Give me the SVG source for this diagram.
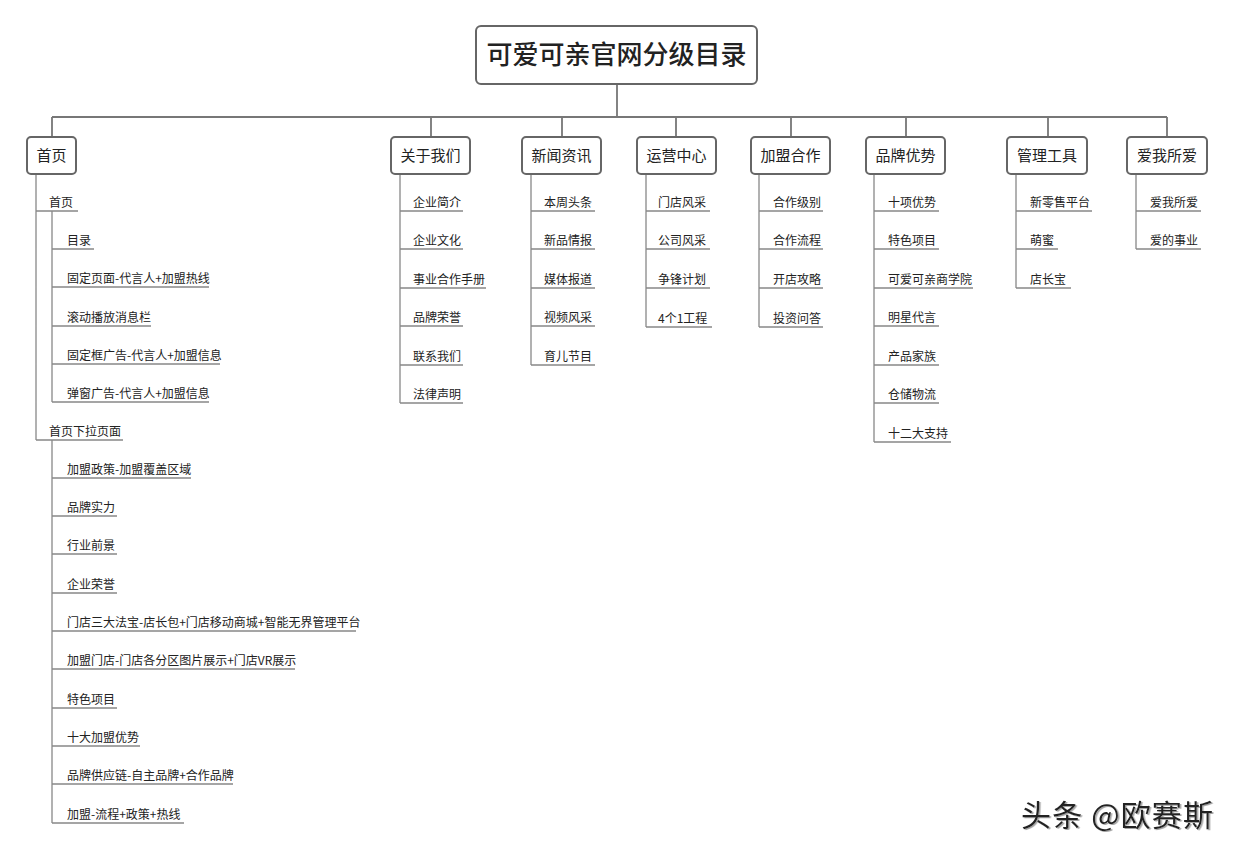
<svg xmlns="http://www.w3.org/2000/svg" width="1240" height="854" viewBox="0 0 1240 854">
<style>
text{font-family:"Noto Sans CJK SC","Noto Sans",sans-serif;fill:#222}
.box{fill:#fff;stroke:#666;stroke-width:2}
.t1{font-size:15px;text-anchor:middle}
.t2{font-size:12px}
.c{fill:none;stroke:#888;stroke-width:1.3}
.bus{fill:none;stroke:#777;stroke-width:1.8}
</style>
<defs>
<filter id="sh" x="-5%" y="-20%" width="110%" height="140%"><feDropShadow dx="1.5" dy="1" stdDeviation="0.6" flood-color="#999" flood-opacity="0.9"/></filter>
</defs>
<rect width="1240" height="854" fill="#fff"/>
<g id="connectors">
<path class="bus" d="M617 84V117M52 117H1167M52 117V137M431 117V137M562 117V137M676 117V137M791 117V137M906 117V137M1048 117V137M1167 117V137"/>
<path class="c" d="M36 174V440M36 211H78M36 440H123
M52 211V402M52 249H94M52 287H209M52 326H151M52 364H220M52 402H209
M52 440V823M52 478H191M52 516H117M52 554H117M52 593H117M52 631H356M52 669H295M52 708H117M52 746H140M52 784H233M52 823H184
M400 174V403M400 211H463M400 249H463M400 288H486M400 326H463M400 365H463M400 403H463
M531 174V365M531 211H595M531 249H595M531 288H595M531 326H595M531 365H595
M646 174V327M646 211H710M646 249H710M646 288H710M646 327H712
M759 174V327M759 211H823M759 249H823M759 288H823M759 327H823
M874 174V442M874 211H939M874 249H939M874 288H973M874 326H939M874 365H939M874 403H939M874 442H951
M1016 174V288M1016 211H1092M1016 249H1058M1016 288H1071
M1136 174V249M1136 211H1201M1136 249H1201"/>
</g>
<g id="root">
<rect x="476" y="26" width="281" height="58" rx="5" class="box"/>
<text x="616.5" y="64" font-size="26" text-anchor="middle" font-weight="500">可爱可亲官网分级目录</text>
</g>
<g id="n-shouye"><rect x="27" y="137" width="49" height="37" rx="4" class="box"/><text x="51.5" y="161" class="t1">首页</text></g>
<g id="n-guanyu"><rect x="391" y="137" width="79" height="37" rx="4" class="box"/><text x="430.5" y="161" class="t1">关于我们</text></g>
<g id="n-xinwen"><rect x="522" y="137" width="79" height="37" rx="4" class="box"/><text x="561.5" y="161" class="t1">新闻资讯</text></g>
<g id="n-yunying"><rect x="637" y="137" width="79" height="37" rx="4" class="box"/><text x="676.5" y="161" class="t1">运营中心</text></g>
<g id="n-jiameng"><rect x="751" y="137" width="79" height="37" rx="4" class="box"/><text x="790.5" y="161" class="t1">加盟合作</text></g>
<g id="n-pinpai"><rect x="866" y="137" width="79" height="37" rx="4" class="box"/><text x="905.5" y="161" class="t1">品牌优势</text></g>
<g id="n-guanli"><rect x="1007" y="137" width="80" height="37" rx="4" class="box"/><text x="1047" y="161" class="t1">管理工具</text></g>
<g id="n-aiwo"><rect x="1127" y="137" width="80" height="37" rx="4" class="box"/><text x="1167" y="161" class="t1">爱我所爱</text></g>
<g id="col-shouye" class="t2">
<text x="49" y="207">首页</text>
<text x="67" y="245">目录</text>
<text x="67" y="283">固定页面-代言人+加盟热线</text>
<text x="67" y="322">滚动播放消息栏</text>
<text x="67" y="360">固定框广告-代言人+加盟信息</text>
<text x="67" y="398">弹窗广告-代言人+加盟信息</text>
<text x="49" y="436">首页下拉页面</text>
<text x="67" y="474">加盟政策-加盟覆盖区域</text>
<text x="67" y="512">品牌实力</text>
<text x="67" y="550">行业前景</text>
<text x="67" y="589">企业荣誉</text>
<text x="67" y="627">门店三大法宝-店长包+门店移动商城+智能无界管理平台</text>
<text x="67" y="665">加盟门店-门店各分区图片展示+门店VR展示</text>
<text x="67" y="704">特色项目</text>
<text x="67" y="742">十大加盟优势</text>
<text x="67" y="780">品牌供应链-自主品牌+合作品牌</text>
<text x="67" y="819">加盟-流程+政策+热线</text>
</g>
<g id="col-guanyu" class="t2">
<text x="413" y="207">企业简介</text>
<text x="413" y="245">企业文化</text>
<text x="413" y="284">事业合作手册</text>
<text x="413" y="322">品牌荣誉</text>
<text x="413" y="361">联系我们</text>
<text x="413" y="399">法律声明</text>
</g>
<g id="col-xinwen" class="t2">
<text x="544" y="207">本周头条</text>
<text x="544" y="245">新品情报</text>
<text x="544" y="284">媒体报道</text>
<text x="544" y="322">视频风采</text>
<text x="544" y="361">育儿节目</text>
</g>
<g id="col-yunying" class="t2">
<text x="658" y="207">门店风采</text>
<text x="658" y="245">公司风采</text>
<text x="658" y="284">争锋计划</text>
<text x="658" y="323">4个1工程</text>
</g>
<g id="col-jiameng" class="t2">
<text x="773" y="207">合作级别</text>
<text x="773" y="245">合作流程</text>
<text x="773" y="284">开店攻略</text>
<text x="773" y="323">投资问答</text>
</g>
<g id="col-pinpai" class="t2">
<text x="888" y="207">十项优势</text>
<text x="888" y="245">特色项目</text>
<text x="888" y="284">可爱可亲商学院</text>
<text x="888" y="322">明星代言</text>
<text x="888" y="361">产品家族</text>
<text x="888" y="399">仓储物流</text>
<text x="888" y="438">十二大支持</text>
</g>
<g id="col-guanli" class="t2">
<text x="1030" y="207">新零售平台</text>
<text x="1030" y="245">萌蜜</text>
<text x="1030" y="284">店长宝</text>
</g>
<g id="col-aiwo" class="t2">
<text x="1150" y="207">爱我所爱</text>
<text x="1150" y="245">爱的事业</text>
</g>
<g id="watermark"><text x="1021" y="826" font-size="30" textLength="192" lengthAdjust="spacing" filter="url(#sh)" fill="#111">头条 @欧赛斯</text></g>
</svg>
